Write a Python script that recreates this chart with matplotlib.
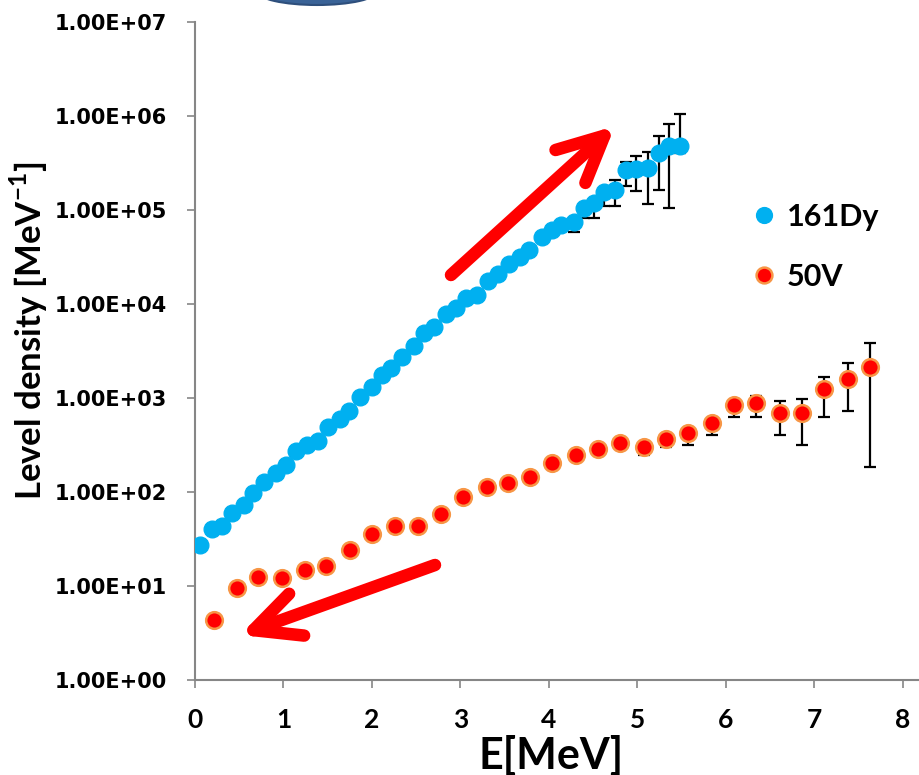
import math
import matplotlib.pyplot as plt
from matplotlib.patches import Ellipse
from matplotlib.ticker import FixedLocator, FuncFormatter, NullLocator

plt.rcParams['font.family'] = ['Lato', 'DejaVu Sans']
plt.rcParams['mathtext.fontset'] = 'custom'
plt.rcParams['mathtext.rm'] = 'Lato:bold'
plt.rcParams['mathtext.bf'] = 'Lato:bold'

# 161Dy: energia (MeV), densidad de niveles (1/MeV), limites de la barra de error
e_dy = [0.06, 0.19, 0.30, 0.42, 0.55, 0.66, 0.78, 0.91, 1.03, 1.14, 1.27, 1.39,
        1.50, 1.64, 1.74, 1.86, 2.00, 2.11, 2.22, 2.34, 2.48, 2.59, 2.70, 2.84,
        2.95, 3.06, 3.19, 3.31, 3.42, 3.55, 3.67, 3.77, 3.92, 4.03, 4.14, 4.28,
        4.40, 4.51, 4.62, 4.75, 4.87, 4.99, 5.12, 5.24, 5.36, 5.48]
rho_dy = [27.3, 40.5, 43.9, 59.4, 71.8, 97, 129, 159, 195, 270, 319, 346,
          491, 589, 722, 1030, 1300, 1750, 2060, 2720, 3570, 4940, 5730, 7770,
          9000, 11400, 12500, 17600, 20700, 26300, 31200, 37700, 51900, 61100, 69700, 73700,
          105000, 117500, 154000, 163000, 263000, 274000, 278000, 405000, 473000, 480000]
lo_dy = [24.6, 36.5, 39.5, 53.5, 64.6, 87.3, 116, 143, 176, 243, 287, 311,
         442, 530, 650, 927, 1170, 1575, 1854, 2448, 3213, 4446, 5157, 6993,
         8100, 10260, 11250, 15840, 18630, 23670, 28080, 33930, 46710, 54990, 62730, 57600,
         81700, 81700, 108400, 108400, 177000, 160300, 115800, 162400, 105700, 400000]
hi_dy = [30.0, 44.6, 48.3, 65.3, 79, 107, 142, 175, 215, 297, 351, 381,
         540, 648, 794, 1133, 1430, 1925, 2266, 2992, 3927, 5434, 6303, 8547,
         9900, 12540, 13750, 19360, 22770, 28930, 34320, 41470, 57090, 67210, 76670, 81000,
         115500, 129000, 169000, 205000, 319000, 372500, 411000, 609000, 811000, 1038000]

# 50V
e_v = [0.21, 0.47, 0.71, 0.98, 1.24, 1.48, 1.75, 2.00, 2.26, 2.52, 2.78, 3.03,
       3.30, 3.54, 3.79, 4.03, 4.31, 4.55, 4.80, 5.07, 5.32, 5.57, 5.84, 6.09,
       6.34, 6.61, 6.86, 7.11, 7.38, 7.63]
rho_v = [4.37, 9.42, 12.5, 12.2, 14.9, 16.4, 24.2, 36.1, 43.2, 43.9, 58.5, 87.3,
         112, 123, 143, 203, 249, 286, 332, 301, 366, 424, 542, 837,
         886, 693, 693, 1250, 1600, 2144]
lo_v = [3.93, 8.48, 11.3, 11.0, 13.4, 14.8, 21.8, 32.5, 38.9, 39.5, 52.7, 78.6,
        101, 111, 129, 183, 224, 257, 299, 245, 298, 313, 403, 623,
        623, 403, 316, 623, 728, 184]
hi_v = [4.81, 10.4, 13.8, 13.4, 16.4, 18.0, 26.6, 39.7, 47.5, 48.3, 64.4, 96,
        123, 135, 157, 223, 274, 315, 365, 331, 403, 466, 596, 921,
        1037, 923, 977, 1678, 2348, 3866]

y_ticks = [1, 10, 100, 1e3, 1e4, 1e5, 1e6, 1e7]
x_ticks = [0, 1, 2, 3, 4, 5, 6, 7, 8]

W, H = 920, 775
fig = plt.figure(figsize=(W / 100, H / 100), dpi=100)
ax = fig.add_axes([195 / W, (H - 680) / H, 752 / W, (680 - 21.7) / H])

gris = '#868686'

# barras de error por debajo de los marcadores
ax.errorbar(e_dy, rho_dy,
            yerr=[[r - l for r, l in zip(rho_dy, lo_dy)], [h - r for r, h in zip(rho_dy, hi_dy)]],
            fmt='none', ecolor='black', elinewidth=1.6, capsize=4.5, capthick=1.6, zorder=2)
ax.errorbar(e_v, rho_v,
            yerr=[[r - l for r, l in zip(rho_v, lo_v)], [h - r for r, h in zip(rho_v, hi_v)]],
            fmt='none', ecolor='black', elinewidth=1.6, capsize=4.5, capthick=1.6, zorder=2)

ax.plot(e_dy, rho_dy, 'o', ls='none', ms=12, color='#00B0F0', mec='#00B0F0', zorder=3, label='161Dy')
ax.plot(e_v, rho_v, 'o', ls='none', ms=12, color='#FF0000', mec='#F79646', mew=1.8, zorder=3, label='50V')

ax.set_yscale('log')
ax.set_ylim(1, 1e7)
ax.set_xlim(0, 8.5)
ax.yaxis.set_major_locator(FixedLocator(y_ticks))
ax.yaxis.set_minor_locator(NullLocator())
ax.yaxis.set_major_formatter(FuncFormatter(lambda v, p: '1.00E+%02d' % round(math.log10(v))))
ax.xaxis.set_major_locator(FixedLocator(x_ticks))

for s in ['top', 'right']:
    ax.spines[s].set_visible(False)
for s in ['left', 'bottom']:
    ax.spines[s].set_color(gris)
    ax.spines[s].set_linewidth(1.5)

ax.tick_params(axis='both', direction='out', length=6, width=1.2, color=gris)
ax.tick_params(axis='y', pad=14)
ax.tick_params(axis='x', pad=14)
for t in ax.get_yticklabels():
    t.set_fontfamily('DejaVu Sans')
    t.set_fontweight('bold')
    t.set_fontsize(15)
for t in ax.get_xticklabels():
    t.set_fontweight('bold')
    t.set_fontsize(19)

ax.set_ylabel(r'Level density [MeV$^{\mathbf{-1}}$]', fontsize=25, fontweight='bold')
ax.yaxis.set_label_coords(-0.193, 0.53)
fig.text(551 / W, 1 - 755 / H, 'E[MeV]', fontsize=31, fontweight='bold', ha='center', va='center')

leg = ax.legend(loc='center left', bbox_to_anchor=(727 / W, 1 - 247 / H), bbox_transform=fig.transFigure,
                frameon=False, prop={'weight': 'bold', 'size': 22}, handlelength=0.6,
                handletextpad=0.45, labelspacing=1.05, markerscale=0.95)

# flechas rojas
ax.annotate('', xy=(615, H - 126), xytext=(451, H - 275), xycoords='figure pixels',
            arrowprops=dict(arrowstyle='->,head_length=3.3,head_width=1.6', lw=9, color='#FF0000',
                            shrinkA=0, shrinkB=0, capstyle='round'))
ax.annotate('', xy=(240, H - 635), xytext=(435, H - 565), xycoords='figure pixels',
            arrowprops=dict(arrowstyle='->,head_length=3.3,head_width=1.6', lw=9, color='#FF0000',
                            shrinkA=0, shrinkB=0, capstyle='round'))

# forma azul recortada en la parte superior
fig.patches.append(Ellipse((317 / W, 1 + 8.6 / H), 120 / W, 27.2 / H, transform=fig.transFigure,
                           facecolor='#3A6397', edgecolor='#2E4F7C', lw=1.5))

fig.savefig('out.png', dpi=100, facecolor='white')
